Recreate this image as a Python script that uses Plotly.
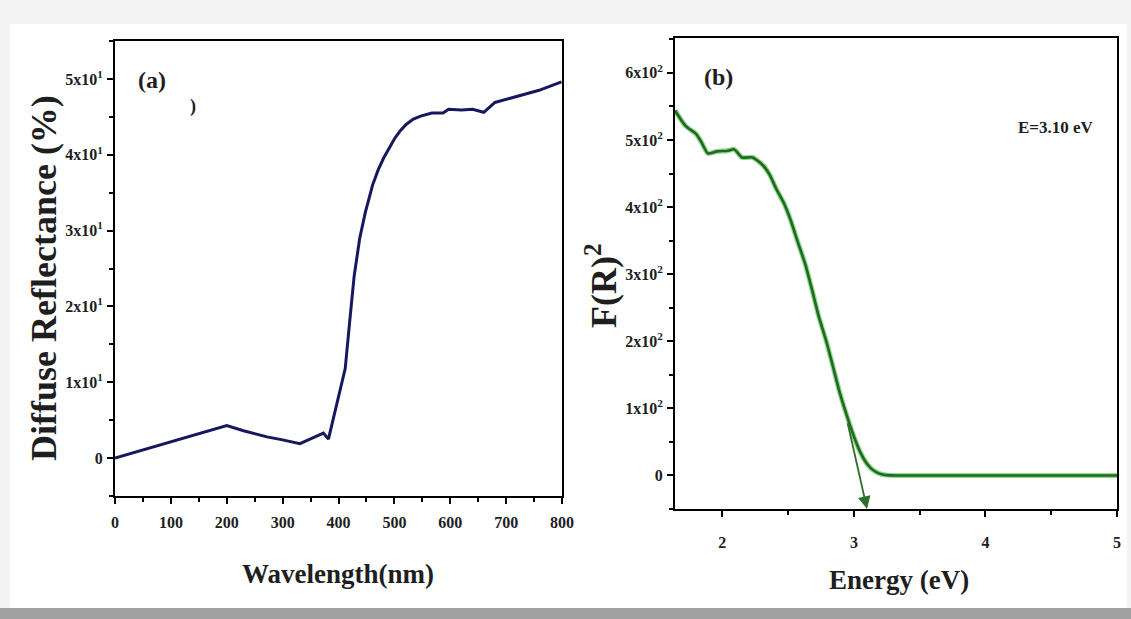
import plotly.graph_objects as go

# Panel (a): diffuse reflectance vs wavelength
wavelength = [0, 50, 100, 150, 200, 230, 272, 300, 331, 349, 373, 382, 390, 400, 412, 420, 428, 438, 448,
              461, 471, 481, 491, 501, 511, 521, 534, 547, 567, 587, 597, 620, 640, 660, 680, 719, 759, 799]
reflectance = [0, 1.1, 2.2, 3.3, 4.3, 3.6, 2.8, 2.4, 1.9, 2.5, 3.3, 2.5, 5.0, 8.0, 11.8, 18.0, 24.0, 29.0, 32.4,
               36.0, 38.0, 39.6, 41.0, 42.2, 43.2, 44.0, 44.7, 45.1, 45.5, 45.5, 46.0, 45.9, 46.0, 45.6, 46.9, 47.7, 48.5, 49.6]

# Panel (b): F(R)^2 vs energy
energy = [1.64, 1.72, 1.80, 1.84, 1.89, 1.96, 2.04, 2.09, 2.15, 2.23, 2.31, 2.36, 2.41, 2.47, 2.52, 2.57,
          2.63, 2.68, 2.73, 2.79, 2.84, 2.89, 2.95, 3.00, 3.05, 3.09, 3.13, 3.17, 3.21, 3.25, 3.32, 3.6, 4.0, 4.5, 5.0]
fr2 = [544, 521, 509, 497, 480, 483, 484, 486, 474, 474, 462, 448, 427, 405, 380, 350,
       315, 278, 239, 200, 163, 125, 87, 58, 34, 20, 10.6, 5, 1.8, 0.5, 0, 0, 0, 0, 0]

a_ytick_vals = [0, 10, 20, 30, 40, 50]
a_ytick_text = ["0", "1x10<sup>1</sup>", "2x10<sup>1</sup>", "3x10<sup>1</sup>", "4x10<sup>1</sup>", "5x10<sup>1</sup>"]
a_xtick_vals = [0, 100, 200, 300, 400, 500, 600, 700, 800]
b_ytick_vals = [0, 100, 200, 300, 400, 500, 600]
b_ytick_text = ["0", "1x10<sup>2</sup>", "2x10<sup>2</sup>", "3x10<sup>2</sup>", "4x10<sup>2</sup>", "5x10<sup>2</sup>", "6x10<sup>2</sup>"]
b_xtick_vals = [2, 3, 4, 5]

band_gap = 3.10
tangent_start = (2.95, 80)

FONT = "Liberation Serif"
W, H = 1131, 619
TXT = "#1e1e1e"


def bold(labels):
    return [f"<b>{s}</b>" for s in labels]


fig = go.Figure()
fig.add_trace(go.Scatter(x=wavelength, y=reflectance, mode="lines", xaxis="x", yaxis="y",
                         line=dict(color="#17175e", width=3), showlegend=False))
fig.add_trace(go.Scatter(x=energy, y=fr2, mode="lines", xaxis="x2", yaxis="y2",
                         line=dict(color="#8fd68f", width=5, shape="spline", smoothing=0.6),
                         showlegend=False, hoverinfo="skip"))
fig.add_trace(go.Scatter(x=energy, y=fr2, mode="lines", xaxis="x2", yaxis="y2",
                         line=dict(color="#1f6a1f", width=2.6, shape="spline", smoothing=0.6),
                         showlegend=False))

axis_common = dict(showline=True, linecolor="black", linewidth=2, mirror=True, ticks="outside",
                   ticklen=6, tickwidth=2, tickcolor="black", showgrid=False, zeroline=False,
                   automargin=False,
                   tickfont=dict(family=FONT, size=16, color=TXT),
                   minor=dict(ticks="outside", ticklen=4, tickwidth=1.5, tickcolor="black"))


def px_x(p):
    return p / W


def px_y(p):
    return 1 - p / H


def label(text, x, y, size, angle=0):
    return dict(text=text, xref="paper", yref="paper", x=px_x(x), y=px_y(y), showarrow=False,
                textangle=angle, font=dict(family=FONT, size=size, color=TXT),
                xanchor="center", yanchor="middle")


fig.update_layout(
    width=W, height=H, margin=dict(l=0, r=0, t=0, b=0, autoexpand=False),
    paper_bgcolor="#f3f3f3", plot_bgcolor="white",
    xaxis=dict(domain=[px_x(115), px_x(562)], range=[0, 800], tickvals=a_xtick_vals,
               ticktext=bold([str(v) for v in a_xtick_vals]), minor_dtick=50, anchor="y",
               ticklabelstandoff=5, **axis_common),
    yaxis=dict(domain=[px_y(496), px_y(41)], range=[-5, 55], tickvals=a_ytick_vals, ticktext=bold(a_ytick_text),
               minor_dtick=5, anchor="x", ticklabelstandoff=1, **axis_common),
    xaxis2=dict(domain=[px_x(675), px_x(1117)], range=[1.64, 5], tickvals=b_xtick_vals,
                ticktext=bold([str(v) for v in b_xtick_vals]), minor_dtick=0.5, anchor="y2",
                ticklabelstandoff=12, **axis_common),
    yaxis2=dict(domain=[px_y(509), px_y(38)], range=[-50, 652], tickvals=b_ytick_vals, ticktext=bold(b_ytick_text),
                minor_dtick=50, anchor="x2", ticklabelstandoff=1, **axis_common),
    shapes=[
        dict(type="rect", xref="paper", yref="paper", x0=px_x(10), x1=px_x(1127), y0=px_y(608), y1=px_y(24),
             fillcolor="white", line=dict(width=0), layer="below"),
        dict(type="rect", xref="paper", yref="paper", x0=0, x1=1, y0=0, y1=px_y(608),
             fillcolor="#a0a0a0", line=dict(width=0), layer="below"),
    ],
    annotations=[
        label("<b>Diffuse Reflectance (%)</b>", 44, 278, 36, -90),
        label("<b>Wavelength(nm)</b>", 338, 574, 27),
        label("<b>F(R)<sup>2</sup></b>", 601, 286, 36, -90),
        label("<b>Energy (eV)</b>", 899, 580, 27),
        label("<b>(a)</b>", 152, 80, 24),
        label("<b>)</b>", 193, 107, 18),
        label("<b>(b)</b>", 718, 77, 24),
        label("<b>E=3.10 eV</b>", 1056, 128, 17),
        dict(x=band_gap, y=-50, xref="x2", yref="y2", ax=tangent_start[0], ay=tangent_start[1],
             axref="x2", ayref="y2", showarrow=True, arrowhead=2, arrowsize=1.4, arrowwidth=1.8,
             arrowcolor="#2c6e2c", text=""),
    ],
)

fig.write_html("out.html", config={"displayModeBar": False},
               post_script="document.body.style.margin='0';document.body.style.overflow='hidden';")
